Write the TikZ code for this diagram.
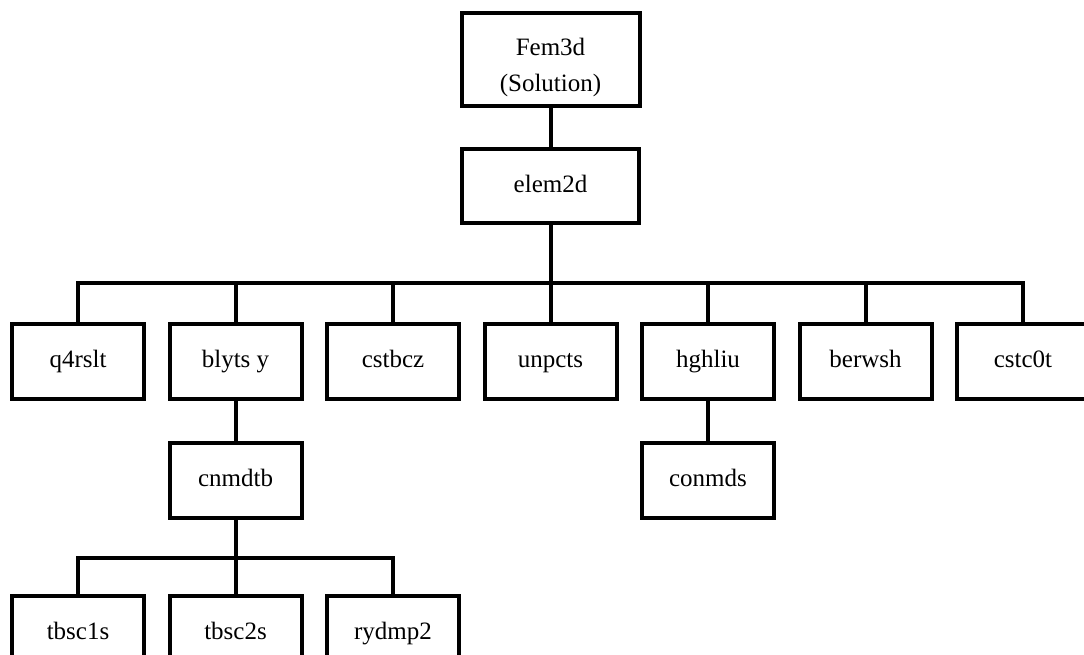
\documentclass[tikz,border=0pt]{standalone}
\usepackage{fontspec}
\setmainfont{Liberation Serif}
\usepackage{tikz}
\usetikzlibrary{positioning}
\tikzset{box/.style={draw, line width=4pt, minimum width=132pt, minimum height=75pt,
    inner sep=0pt, align=center, text height=17pt, text depth=5pt,
    font=\fontsize{25}{36}\selectfont},
  wire/.style={line width=4pt}}

\begin{document}
\begin{tikzpicture}[x=1pt,y=-1pt]
    \pgfmathsetmacro{\gap}{157.5}
    \pgfmathsetmacro{\first}{78}
    \pgfmathsetmacro{\mid}{550.5}
    \pgfmathsetmacro{\rowA}{361.5}
    \pgfmathsetmacro{\rowB}{480}
    \pgfmathsetmacro{\rowC}{633.5}

    \useasboundingbox (0,0) rectangle (1084,654);

    % top of the tree
    \node[box, minimum width=178pt, minimum height=93pt, text height=66pt, text depth=3pt] (fem3d) at (\mid,59.5) {Fem3d\\(Solution)};
    \node[box, minimum width=177pt, minimum height=74pt] (elem2d) at (\mid,186) {elem2d};
    \coordinate (busA) at (\mid,283);

    % first row
    \node[box] (q4rslt) at (\first,\rowA) {q4rslt};
    \node[box] (blytsy) at (\first+\gap,\rowA) {blyts y};
    \node[box] (cstbcz) at (\first+2*\gap,\rowA) {cstbcz};
    \node[box] (unpcts) at (\first+3*\gap,\rowA) {unpcts};
    \node[box] (hghliu) at (\first+4*\gap,\rowA) {hghliu};
    \node[box] (berwsh) at (\first+5*\gap,\rowA) {berwsh};
    \node[box] (cstc0t) at (\first+6*\gap,\rowA) {cstc0t};

    % second row
    \node[box] (cnmdtb) at (\first+\gap,\rowB) {cnmdtb};
    \node[box] (conmds) at (\first+4*\gap,\rowB) {conmds};
    \coordinate (busB) at (\first+\gap,558);

    % bottom row
    \node[box] (tbsc1s) at (\first,\rowC) {tbsc1s};
    \node[box] (tbsc2s) at (\first+\gap,\rowC) {tbsc2s};
    \node[box] (rydmp2) at (\first+2*\gap,\rowC) {rydmp2};

    \draw[wire] (fem3d.south) -- (elem2d.north);
    \draw[wire] (elem2d.south) -- (busA);
    \draw[wire] (busA) -| (q4rslt.north);
    \draw[wire] (busA) -| (blytsy.north);
    \draw[wire] (busA) -| (cstbcz.north);
    \draw[wire] (busA) -| (unpcts.north);
    \draw[wire] (busA) -| (hghliu.north);
    \draw[wire] (busA) -| (berwsh.north);
    \draw[wire] (busA) -| (cstc0t.north);

    \draw[wire] (blytsy.south) -- (cnmdtb.north);
    \draw[wire] (hghliu.south) -- (conmds.north);

    \draw[wire] (cnmdtb.south) -- (busB);
    \draw[wire] (busB) -| (tbsc1s.north);
    \draw[wire] (busB) -| (tbsc2s.north);
    \draw[wire] (busB) -| (rydmp2.north);
\end{tikzpicture}
\end{document}
